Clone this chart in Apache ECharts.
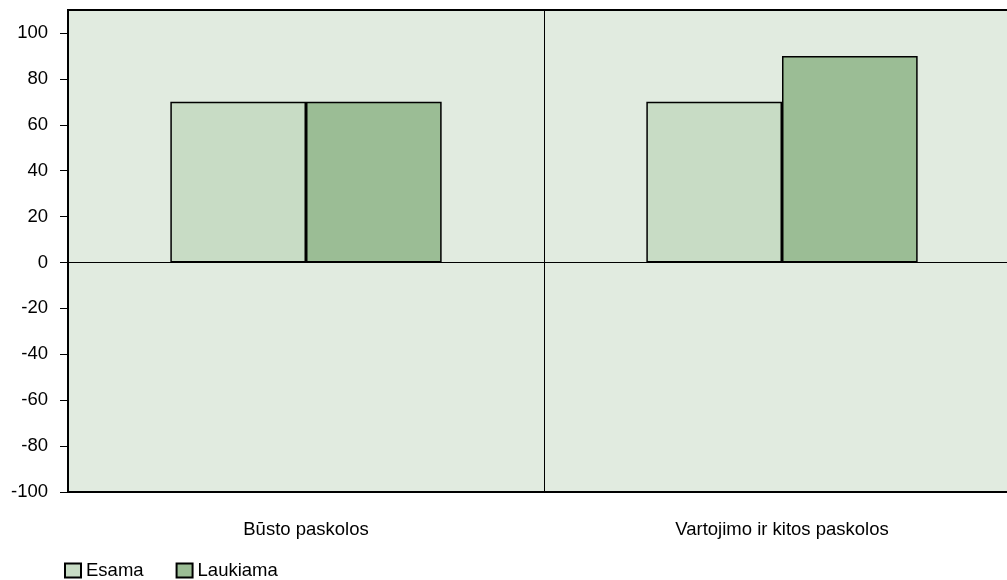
<!DOCTYPE html>
<html>
<head>
<meta charset="utf-8">
<script src="https://cdn.jsdelivr.net/npm/echarts@6/dist/echarts.min.js"></script>
<style>
  html, body { margin: 0; padding: 0; background: #ffffff; overflow: hidden; width: 1007px; height: 580px; }
  /* the plot continues past the right edge of the page */
  #chart { width: 1020px; height: 580px; }
</style>
</head>
<body>
<div id="chart"></div>
<script>
// Loan categories and the two survey series
const categories = ['Būsto paskolos', 'Vartojimo ir kitos paskolos'];
const seriesNames = ['Esama', 'Laukiama'];
const esama = [70, 70];
const laukiama = [70, 90];
const yTicks = [-100, -80, -60, -40, -20, 0, 20, 40, 60, 80, 100];

const FONT = '"Liberation Sans", Arial, sans-serif';
const FS = 18.5;

const chart = echarts.init(document.getElementById('chart'), null, { renderer: 'canvas' });

chart.setOption({
  animation: false,
  grid: {
    left: 68, top: 10, right: 0, bottom: 88,
    show: true,
    backgroundColor: '#E1EBE0',
    borderColor: '#000000',
    borderWidth: 2
  },
  legend: {
    left: 59, top: 556,
    itemWidth: 16, itemHeight: 14, itemGap: 32,
    icon: 'rect',
    textStyle: { fontFamily: FONT, fontSize: FS, color: '#000000' },
    data: seriesNames
  },
  xAxis: {
    type: 'category',
    data: categories,
    position: 'bottom',
    axisLine: { onZero: false, lineStyle: { color: '#000000', width: 2 } },
    axisTick: { show: false },
    axisLabel: { margin: 28, fontFamily: FONT, fontSize: FS, color: '#000000' },
    splitLine: { show: true, lineStyle: { color: '#000000', width: 1 } }
  },
  yAxis: {
    type: 'value',
    min: -100, max: 110, interval: 20,
    axisLine: { show: true, lineStyle: { color: '#000000', width: 2 } },
    axisTick: { show: true, length: 8, customValues: yTicks, lineStyle: { color: '#000000', width: 1 } },
    axisLabel: { margin: 20, customValues: yTicks, fontFamily: FONT, fontSize: FS, color: '#000000' },
    splitLine: { show: false }
  },
  series: [
    {
      name: seriesNames[0],
      type: 'bar',
      data: esama,
      barGap: '0%',
      barCategoryGap: '43%',
      itemStyle: { color: '#C8DCC5', borderColor: '#000000', borderWidth: 1.5 },
      markLine: {
        silent: true,
        symbol: 'none',
        label: { show: false },
        lineStyle: { color: '#000000', width: 1, type: 'solid' },
        data: [{ yAxis: 0 }]
      }
    },
    {
      name: seriesNames[1],
      type: 'bar',
      data: laukiama,
      barGap: '0%',
      barCategoryGap: '43%',
      itemStyle: { color: '#9BBD95', borderColor: '#000000', borderWidth: 1.5 }
    }
  ]
});
</script>
</body>
</html>
